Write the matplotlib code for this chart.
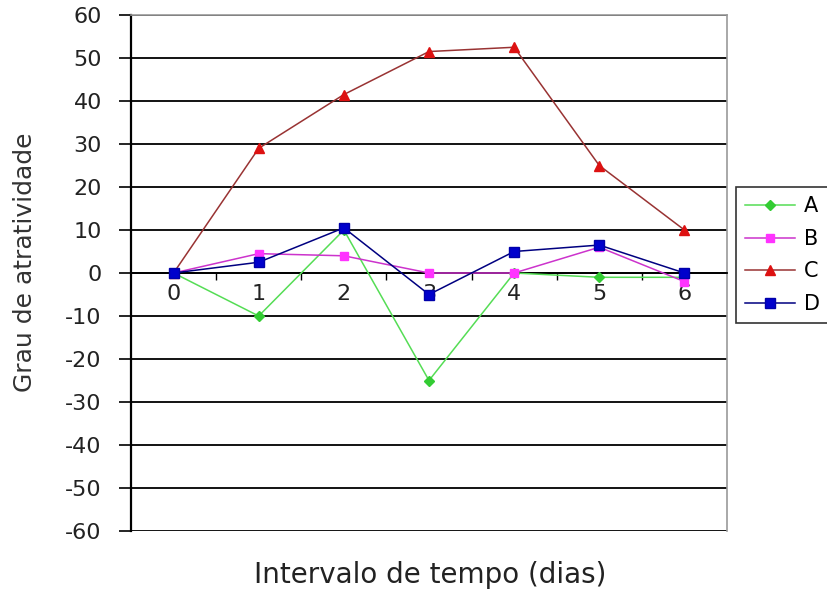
import matplotlib
matplotlib.use("Agg")
import matplotlib.pyplot as plt
from matplotlib.ticker import MultipleLocator, FixedLocator

plt.rcParams['font.family'] = ['DejaVu Sans']
plt.rcParams['axes.unicode_minus'] = False

dias = [0, 1, 2, 3, 4, 5, 6]
serie_a = [0, -10, 10, -25, 0, -1, -1]
serie_b = [0, 4.5, 4, 0, 0, 6, -2]
serie_c = [0, 29, 41.5, 51.5, 52.5, 25, 10]
serie_d = [0, 2.5, 10.5, -5, 5, 6.5, 0]
nomes = ['A', 'B', 'C', 'D']

W, H = 828, 593
fig = plt.figure(figsize=(W / 100, H / 100), dpi=100)
ax = fig.add_axes([131 / W, 1 - 531 / H, (727 - 131) / W, (531 - 15) / H])

estilos = [
    dict(color='#55dd55', marker='D', mfc='#33cc33', mec='#33cc33', ms=5),
    dict(color='#cc33cc', marker='s', mfc='#ff33ff', mec='#ff33ff', ms=6),
    dict(color='#993333', marker='^', mfc='#dd1111', mec='#dd1111', ms=7),
    dict(color='#000080', marker='s', mfc='#0000cc', mec='#0000aa', ms=7),
]
for nome, vals, st in zip(nomes, [serie_a, serie_b, serie_c, serie_d], estilos):
    ax.plot(dias, vals, lw=1.1, label=nome, zorder=3, **st)

ax.set_xlim(-0.5, 6.5)
ax.set_ylim(-60, 60)
ax.yaxis.set_major_locator(MultipleLocator(10))
ax.grid(axis='y', color='black', lw=1.3, zorder=1)
ax.set_axisbelow(True)

# category axis crossing at zero, with tick marks between categories
ax.spines['bottom'].set_position(('data', 0))
ax.spines['bottom'].set_linewidth(1.3)
ax.spines['left'].set_linewidth(1.6)
for s in ['top', 'right']:
    ax.spines[s].set_color('#999999')
    ax.spines[s].set_linewidth(1.2)
ax.set_xticks(dias)
ax.set_xticklabels([str(d) for d in dias])
ax.xaxis.set_minor_locator(FixedLocator([0.5, 1.5, 2.5, 3.5, 4.5, 5.5]))
ax.tick_params(axis='x', which='major', length=0, pad=8, labelsize=16,
               labelcolor='#222222')
ax.tick_params(axis='x', which='minor', length=5, width=1, direction='out')
ax.tick_params(axis='y', length=9, width=1.2, direction='out', labelsize=16,
               pad=12, labelcolor='#222222')

fig.text(25 / W, 1 - 262 / H, 'Grau de atratividade', rotation=90,
         ha='center', va='center', fontsize=18, color='#333333')
fig.text(430 / W, 1 - 575 / H, 'Intervalo de tempo (dias)',
         ha='center', va='center', fontsize=20, color='#222222')

leg = fig.legend(loc='upper left', bbox_to_anchor=(736 / W, 1 - 187 / H),
                 frameon=True, fancybox=False, edgecolor='black',
                 fontsize=15, handlelength=2.4, labelspacing=0.6,
                 borderpad=0.45, handletextpad=0.4, borderaxespad=0)
leg.get_frame().set_linewidth(1.2)

fig.savefig('out.png', dpi=100)
